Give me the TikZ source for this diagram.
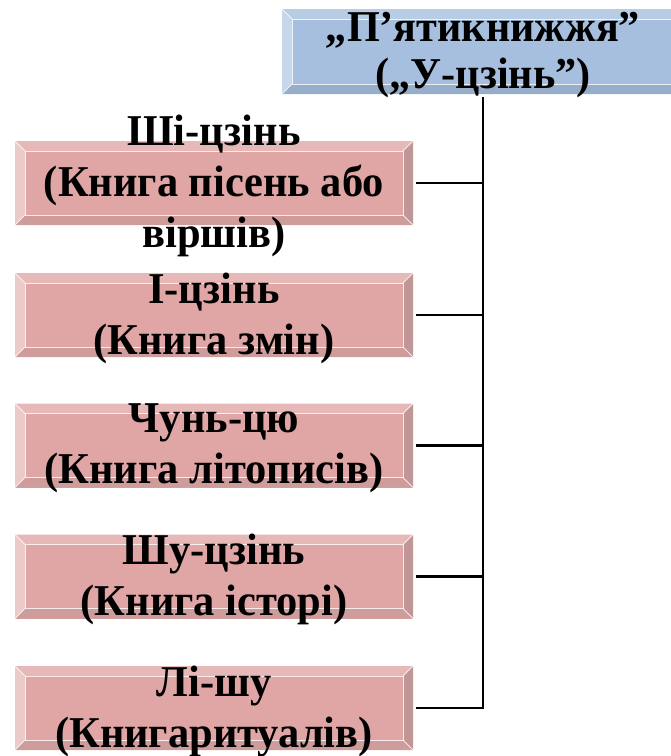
\documentclass[tikz,border=0pt]{standalone}
\usepackage{fontspec}
\setmainfont{Liberation Serif}
\usetikzlibrary{calc}
\definecolor{pkface}{HTML}{DFA6A5}
\definecolor{pktop}{HTML}{E6B9B8}
\definecolor{pkleft}{HTML}{EBCACA}
\definecolor{pkbottom}{HTML}{CD9C9B}
\definecolor{pkright}{HTML}{C19696}
\definecolor{blface}{HTML}{A7BFDE}
\definecolor{bltop}{HTML}{B8CCE4}
\definecolor{blleft}{HTML}{C6D6EB}
\definecolor{blbottom}{HTML}{97AECB}
\definecolor{blright}{HTML}{8EA6C6}
\newcommand{\mybevels}[6]{%
  \fill[#3] (#1.north west) -- (#1.north east) -- ($(#1.north east)+(-#2,-#2)$) -- ($(#1.north west)+(#2,-#2)$) -- cycle;
  \fill[#4] (#1.north west) -- (#1.south west) -- ($(#1.south west)+(#2,#2)$) -- ($(#1.north west)+(#2,-#2)$) -- cycle;
  \fill[#5] (#1.south west) -- (#1.south east) -- ($(#1.south east)+(-#2,#2)$) -- ($(#1.south west)+(#2,#2)$) -- cycle;
  \fill[#6] (#1.north east) -- (#1.south east) -- ($(#1.south east)+(-#2,#2)$) -- ($(#1.north east)+(-#2,-#2)$) -- cycle;
  \draw[bevline] ($(#1.north west)+(#2,-#2)$) rectangle ($(#1.south east)+(-#2,#2)$);
  \draw[bevline] (#1.north west) -- ($(#1.north west)+(#2,-#2)$);
  \draw[bevline] (#1.north east) -- ($(#1.north east)+(-#2,-#2)$);
  \draw[bevline] (#1.south west) -- ($(#1.south west)+(#2,#2)$);
  \draw[bevline] (#1.south east) -- ($(#1.south east)+(-#2,#2)$);
}
\begin{document}
\begin{tikzpicture}[x=1pt,y=-1pt,
  bevline/.style={white,line width=0.8pt,opacity=0.8},
  pinkbox/.style={fill=pkface,minimum width=398pt,minimum height=84pt,inner sep=0pt,outer sep=0pt},
  bluebox/.style={fill=blface,minimum width=402pt,minimum height=85pt,inner sep=0pt,outer sep=0pt},
  boxtext/.style={align=center,font=\bfseries\fontsize{44}{51}\selectfont,inner sep=0pt,xscale=0.965,transform shape,yshift=-3pt},
  toptext/.style={align=center,font=\bfseries\fontsize{44}{47}\selectfont,inner sep=0pt,xscale=0.96,transform shape,yshift=-4pt},
  conn/.style={line width=2.2pt,black},
  trunk/.style={line width=2.6pt,black}]
\useasboundingbox (0,0) rectangle (671,756);
\clip (0,0) rectangle (671,756);
\node[bluebox] (top) at (483,51.5) {};
\mybevels{top}{10pt}{bltop}{blleft}{blbottom}{blright}
\node[pinkbox] (b1) at (214,183) {};
\mybevels{b1}{10pt}{pktop}{pkleft}{pkbottom}{pkright}
\node[pinkbox] (b2) at (214,315) {};
\mybevels{b2}{10pt}{pktop}{pkleft}{pkbottom}{pkright}
\node[pinkbox] (b3) at (214,445.5) {};
\mybevels{b3}{10pt}{pktop}{pkleft}{pkbottom}{pkright}
\node[pinkbox] (b4) at (214,576.5) {};
\mybevels{b4}{10pt}{pktop}{pkleft}{pkbottom}{pkright}
\node[pinkbox] (b5) at (214,708) {};
\mybevels{b5}{10pt}{pktop}{pkleft}{pkbottom}{pkright}
\node[toptext] (ttop) at (top.center) {„П’ятикнижжя”\\(„У-цзінь”)};
\node[boxtext] (t1) at (b1.center) {Ші-цзінь\\(Книга пісень або\\віршів)};
\node[boxtext] (t2) at (b2.center) {І-цзінь\\(Книга змін)};
\node[boxtext] (t3) at (b3.center) {Чунь-цю\\(Книга літописів)};
\node[boxtext] (t4) at (b4.center) {Шу-цзінь\\(Книга історі)};
\node[boxtext] (t5) at (b5.center) {Лі-шу\\(Книгаритуалів)};
\draw[trunk,shorten <=3pt,shorten >=-1.1pt] (top.south) -- (b5 -| top);
\foreach \b in {b1,b2,b3,b4,b5}{
  \draw[conn,shorten <=3pt] (\b.east) -- (\b -| top);
}
\end{tikzpicture}
\end{document}
